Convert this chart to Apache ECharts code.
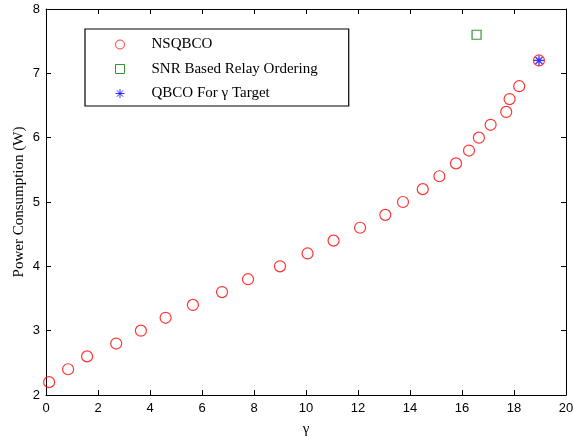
<!DOCTYPE html>
<html><head><meta charset="utf-8">
<script src="https://cdn.jsdelivr.net/npm/echarts@6/dist/echarts.min.js"></script>
<style>html,body{margin:0;padding:0;background:#fff}#c{width:573px;height:439px}</style>
</head><body><div id="c"></div>
<script>
var nsqGamma = [0.12, 0.85, 1.58, 2.7, 3.65, 4.6, 5.65, 6.77, 7.77, 9.0, 10.06, 11.06, 12.08, 13.05, 13.73, 14.49, 15.13, 15.77, 16.27, 16.65, 17.1, 17.7, 17.83, 18.2, 18.96];
var nsqPower = [2.2, 2.4, 2.6, 2.8, 3.0, 3.2, 3.4, 3.6, 3.8, 4.0, 4.2, 4.4, 4.6, 4.8, 5.0, 5.2, 5.4, 5.6, 5.8, 6.0, 6.2, 6.4, 6.6, 6.8, 7.2];
var snrGamma = [16.56];
var snrPower = [7.6];
var qbcoGamma = [18.96];
var qbcoPower = [7.2];
var seriesNames = ['NSQBCO', 'SNR Based Relay Ordering', 'QBCO For \u03b3 Target'];
var xTicks = {min: 0, max: 20, interval: 2};
var yTicks = {min: 2, max: 8, interval: 1};

function pairs(xs, ys) { return xs.map(function (x, i) { return [x, ys[i]]; }); }

var star = 'path://M0,-5L0,5M-5,0L5,0M-3.5,-3.5L3.5,3.5M-3.5,3.5L3.5,-3.5';
var axisLine = {show: true, onZero: false, lineStyle: {color: '#000', width: 1}};
var tick = {show: true, inside: true, length: 5, lineStyle: {color: '#000'}};
var lbl = {color: '#000', fontFamily: 'Liberation Sans, Arial', fontSize: 13};

var chart = echarts.init(document.getElementById('c'), null, {renderer: 'canvas'});
chart.setOption({
  animation: false,
  backgroundColor: '#fff',
  grid: {left: 46, right: 7, top: 9, bottom: 44, containLabel: false, outerBoundsMode: 'none'},
  legend: {
    orient: 'vertical', left: 85, top: 29,
    padding: [8, 31, 5, 30],
    borderColor: '#000', borderWidth: 1.2,
    itemWidth: 9, itemHeight: 9, itemGap: 9.5,
    itemStyle: {borderWidth: 1},
    textStyle: {fontFamily: 'Liberation Serif, Times New Roman', fontSize: 15, color: '#000', lineHeight: 14, padding: [0, 0, 0, 22]},
    data: [
      {name: seriesNames[0], icon: 'circle'},
      {name: seriesNames[1], icon: 'rect'},
      {name: seriesNames[2]}
    ]
  },
  xAxis: [
    {type: 'value', min: xTicks.min, max: xTicks.max, interval: xTicks.interval, position: 'bottom',
     name: '\u03b3', nameLocation: 'middle', nameGap: 27,
     nameTextStyle: {fontFamily: 'Liberation Serif, Times New Roman', fontSize: 15, color: '#000'},
     axisLine: axisLine, axisTick: tick, axisLabel: Object.assign({margin: 7}, lbl), splitLine: {show: false}},
    {type: 'value', min: xTicks.min, max: xTicks.max, interval: xTicks.interval, position: 'top',
     axisLine: axisLine, axisTick: tick, axisLabel: {show: false}, splitLine: {show: false}}
  ],
  yAxis: [
    {type: 'value', min: yTicks.min, max: yTicks.max, interval: yTicks.interval, position: 'left',
     name: 'Power Consumption (W)', nameLocation: 'middle', nameGap: 19, nameMoveOverlap: false,
     nameTextStyle: {fontFamily: 'Liberation Serif, Times New Roman', fontSize: 15, color: '#000'},
     axisLine: axisLine, axisTick: tick, axisLabel: Object.assign({margin: 6}, lbl), splitLine: {show: false}},
    {type: 'value', min: yTicks.min, max: yTicks.max, interval: yTicks.interval, position: 'right',
     axisLine: axisLine, axisTick: tick, axisLabel: {show: false}, splitLine: {show: false}}
  ],
  series: [
    {name: seriesNames[0], type: 'scatter', symbol: 'circle', symbolSize: 11,
     itemStyle: {color: 'rgba(255,255,255,0)', borderColor: '#ff0000', borderWidth: 1.2},
     data: pairs(nsqGamma, nsqPower)},
    {name: seriesNames[1], type: 'scatter', symbol: 'rect', symbolSize: 9,
     itemStyle: {color: 'rgba(255,255,255,0)', borderColor: '#008000', borderWidth: 1.2},
     data: pairs(snrGamma, snrPower)},
    {name: seriesNames[2], type: 'scatter', symbol: star, symbolSize: 10,
     itemStyle: {color: 'rgba(0,0,0,0)', borderColor: '#0000ff', borderWidth: 1.3},
     data: pairs(qbcoGamma, qbcoPower)}
  ]
});
</script></body></html>
